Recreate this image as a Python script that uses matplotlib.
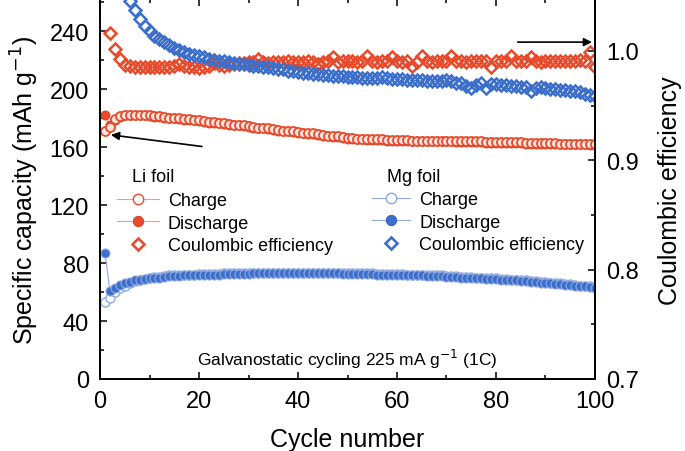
import numpy as np
import matplotlib
matplotlib.use("Agg")
import matplotlib.pyplot as plt
from matplotlib.lines import Line2D
from matplotlib.ticker import MultipleLocator, FormatStrFormatter

plt.rcParams['font.family'] = ['Liberation Sans', 'DejaVu Sans']

nan = np.nan
cycles = np.arange(1, 101)

li_discharge = [182, 175, 179, 181, 182, 182, 182, 182, 182, 181.5,
                181, 181, 180.5, 180, 180, 179.5, 179, 179, 178.5, 178,
                177.5, 177, 177, 176.5, 176, 175.5, 175, 175, 174.5, 174,
                173.5, 173, 173, 172.5, 172, 171.5, 171, 171, 170.5, 170,
                169.5, 169, 169, 168.5, 168, 167.5, 167, 167, 166.5, 166,
                166, 165.5, 165.5, 165, 165, 165, 165, 164.5, 164.5, 164.5,
                164.5, 164.5, 164, 164, 164, 164, 164, 164, 164, 164,
                164, 163.5, 163.5, 163.5, 163.5, 163.5, 163.5, 163, 163, 163,
                163, 163, 163, 163, 163, 162.5, 162.5, 162.5, 162.5, 162.5,
                162.5, 162.5, 162, 162, 162, 162, 162, 162, 161.5, 161.5]
li_charge = [171, 174, 179.5, 181.5, 182.5, 182.5, 182.5, 182.5, 182.5, 182,
             181.5, 181.5, 181, 180.5, 180.5, 180, 179.5, 179.5, 179, 178.5,
             178, 177.5, 177.5, 177, 176.5, 176, 175.5, 175.5, 175, 174.5,
             174, 173.5, 173.5, 173, 172.5, 172, 171.5, 171.5, 171, 170.5,
             170, 169.5, 169.5, 169, 168.5, 168, 167.5, 167.5, 167, 166.5,
             166.5, 166, 166, 165.5, 165.5, 165.5, 165.5, 165, 165, 165,
             165, 165, 164.5, 164.5, 164.5, 164.5, 164.5, 164.5, 164.5, 164.5,
             164.5, 164, 164, 164, 164, 164, 164, 163.5, 163.5, 163.5,
             163.5, 163.5, 163.5, 163.5, 163.5, 163, 163, 163, 163, 163,
             163, 163, 162.5, 162.5, 162.5, 162.5, 162.5, 162.5, 162, 162]
li_ce = [nan, 1.016, 1.002, 0.993, 0.987, 0.986, 0.985, 0.985, 0.985, 0.985,
         0.985, 0.985, 0.985, 0.985, 0.986, 0.988, 0.986, 0.985, 0.985, 0.984,
         0.985, 0.986, 0.989, 0.987, 0.986, 0.987, 0.988, 0.989, 0.989, 0.990,
         0.990, 0.993, 0.990, 0.989, 0.990, 0.990, 0.990, 0.991, 0.990, 0.990,
         0.990, 0.991, 0.990, 0.988, 0.990, 0.991, 0.994, 0.990, 0.991, 0.991,
         0.991, 0.990, 0.991, 0.995, 0.991, 0.990, 0.991, 0.991, 0.994, 0.991,
         0.990, 0.991, 0.986, 0.990, 0.995, 0.991, 0.990, 0.991, 0.991, 0.991,
         0.995, 0.991, 0.991, 0.990, 0.991, 0.991, 0.991, 0.991, 0.985, 0.991,
         0.991, 0.991, 0.995, 0.991, 0.991, 0.991, 0.994, 0.991, 0.990, 0.991,
         0.991, 0.991, 0.991, 0.991, 0.991, 0.991, 0.992, 0.991, 0.999, 0.985]

mg_discharge = [87, 61, 63, 65, 66, 67, 68, 68.5, 69, 69.5,
                70, 70, 70.5, 71, 71, 71, 71.5, 71.5, 71.5, 72,
                72, 72, 72, 72, 72.5, 72.5, 72.5, 72.5, 72.5, 72.5,
                73, 73, 73, 73, 73, 73, 73, 73, 73, 73,
                73, 73, 73, 73, 73, 73, 73, 73, 72.5, 72.5,
                72.5, 72.5, 72.5, 72.5, 72.5, 72, 72, 72, 72, 72,
                72, 71.5, 71.5, 71.5, 71.5, 71, 71, 71, 71, 70.5,
                70.5, 70.5, 70, 70, 70, 69.5, 69.5, 69, 69, 69,
                68.5, 68.5, 68, 68, 67.5, 67.5, 67, 67, 66.5, 66.5,
                66, 65.5, 65.5, 65, 65, 64.5, 64, 64, 63.5, 63]
mg_charge = [53, 56, 60, 62.5, 64.5, 66, 67.5, 68.5, 69, 69.5,
             70.5, 70.5, 71, 71.5, 71.5, 71.5, 72, 72, 72, 72.5,
             72.5, 72.5, 72.5, 72.5, 73, 73, 73, 73, 73, 73,
             73.5, 73.5, 73.5, 73.5, 73.5, 73.5, 73.5, 73.5, 73.5, 73.5,
             73.5, 73.5, 73.5, 73.5, 73.5, 73.5, 73.5, 73.5, 73, 73,
             73, 73, 73, 73, 73, 72.5, 72.5, 72.5, 72.5, 72.5,
             72.5, 72, 72, 72, 72, 71.5, 71.5, 71.5, 71.5, 71,
             71, 71, 70.5, 70.5, 70.5, 70, 70, 69.5, 69.5, 69.5,
             69, 69, 68.5, 68.5, 68, 68, 67.5, 67.5, 67, 67,
             66.5, 66, 66, 65.5, 65.5, 65, 64.5, 64.5, 64, 63.5]
mg_ce = [nan, nan, nan, nan, 1.055, 1.046, 1.037, 1.029, 1.023, 1.018,
         1.014, 1.011, 1.008, 1.005, 1.003, 1.001, 0.999, 0.997, 0.996, 0.995,
         0.994, 0.993, 0.992, 0.991, 0.991, 0.990, 0.989, 0.988, 0.988, 0.987,
         0.986, 0.986, 0.985, 0.985, 0.984, 0.983, 0.983, 0.982, 0.982, 0.981,
         0.980, 0.980, 0.979, 0.979, 0.978, 0.978, 0.977, 0.977, 0.977, 0.976,
         0.976, 0.976, 0.975, 0.975, 0.975, 0.975, 0.976, 0.975, 0.974, 0.974,
         0.974, 0.973, 0.973, 0.973, 0.973, 0.972, 0.972, 0.972, 0.972, 0.973,
         0.972, 0.971, 0.971, 0.968, 0.966, 0.969, 0.971, 0.966, 0.970, 0.970,
         0.969, 0.969, 0.968, 0.968, 0.967, 0.967, 0.963, 0.966, 0.967, 0.966,
         0.965, 0.965, 0.964, 0.964, 0.963, 0.963, 0.962, 0.961, 0.960, 0.959]

red = '#e84b2c'
red_light = '#f29a86'
red_dark = '#d23a1c'
blue = '#3c6fcc'
blue_light = '#8fa9e0'
blue_dark = '#2c58ad'

fig = plt.figure(figsize=(6.85, 4.52), dpi=100)
ax = fig.add_axes([0.146, 0.1593, 0.7226, 0.8397])
ax2 = ax.twinx()

# capacities (left axis); Mg: discharge on top, Li: charge on top
ax.plot(cycles, mg_charge, '-o', color=blue_light, lw=0.8, ms=6.5,
        mfc='white', mec=blue_light, mew=1.0, zorder=3)
ax.plot(cycles, mg_discharge, '-o', color=blue_light, lw=0.8, ms=6.5,
        mfc=blue, mec=blue_light, mew=0.8, zorder=3)
ax.plot(cycles, li_discharge, '-o', color=red_light, lw=0.8, ms=6.5,
        mfc=red, mec=red_dark, mew=0.6, zorder=3)
ax.plot(cycles, li_charge, '-o', color=red_light, lw=0.8, ms=6.5,
        mfc='#fde3dc', mec=red, mew=1.3, zorder=3)

# coulombic efficiency (right axis)
ax2.plot(cycles, li_ce, 'D', ms=6.2, mfc='none', mec=red, mew=1.8)
ax2.plot(cycles, mg_ce, 'D', ms=6.2, mfc='none', mec=blue, mew=1.8)

ax.set_xlim(0, 100)
ax.set_ylim(0, 262)
ax2.set_ylim(0.7, 1.047)

ax.xaxis.set_major_locator(MultipleLocator(20))
ax.xaxis.set_minor_locator(MultipleLocator(10))
ax.yaxis.set_major_locator(MultipleLocator(40))
ax.yaxis.set_minor_locator(MultipleLocator(20))
ax2.yaxis.set_major_locator(MultipleLocator(0.1))
ax2.yaxis.set_minor_locator(MultipleLocator(0.05))
ax2.yaxis.set_major_formatter(FormatStrFormatter('%.1f'))

ax.tick_params(which='both', direction='in', top=True, right=False,
               labelsize=17, width=1.1, pad=8)
ax.tick_params(which='major', length=5)
ax.tick_params(which='minor', length=3)
ax2.tick_params(which='both', direction='in', labelsize=17, width=1.1, pad=8)
ax2.tick_params(which='major', length=5)
ax2.tick_params(which='minor', length=3)

for a in (ax, ax2):
    for s in a.spines.values():
        s.set_linewidth(1.3)

ax.set_xlabel('Cycle number', fontsize=18, labelpad=11)
ax.set_ylabel('Specific capacity (mAh g$^{-1}$)', fontsize=18, labelpad=6)
ax2.set_ylabel('Coulombic efficiency', fontsize=18, labelpad=14)

# arrows
ax.annotate('', xy=(2.2, 168.5), xytext=(20.6, 160.5),
            arrowprops=dict(arrowstyle='-|>', color='black', lw=1.2,
                            mutation_scale=12, shrinkA=0, shrinkB=0))
ax2.annotate('', xy=(99.4, 1.008), xytext=(84.4, 1.008),
             arrowprops=dict(arrowstyle='-|>', color='black', lw=1.2,
                             mutation_scale=12, shrinkA=0, shrinkB=0))

ax.text(50, 10, 'Galvanostatic cycling 225 mA g$^{-1}$ (1C)', fontsize=12.5,
        ha='center', va='baseline')

# legends
def make_handles(c, cl, cdark, top_hollow):
    hollow = Line2D([], [], color=cl, lw=0.8, marker='o', ms=7.5,
                    mfc='white', mec=c if top_hollow else cl, mew=1.0)
    filled = Line2D([], [], color=cl, lw=0.8, marker='o', ms=7.5, mfc=c,
                    mec=cdark, mew=0.6)
    diamond = Line2D([], [], ls='none', marker='D', ms=6.5, mfc='none',
                     mec=c, mew=1.9)
    return [hollow, filled, diamond]

labels = ['Charge', 'Discharge', 'Coulombic efficiency']
leg1 = ax2.legend(make_handles(red, red_light, red_dark, True), labels,
                  loc='upper left', bbox_to_anchor=(0.035, 0.492),
                  frameon=False, fontsize=13, handlelength=2.3,
                  handletextpad=0.5, labelspacing=0.3, borderpad=0,
                  borderaxespad=0)
ax2.add_artist(leg1)
ax2.legend(make_handles(blue, blue_light, blue_dark, False), labels,
           loc='upper left', bbox_to_anchor=(0.55, 0.495),
           frameon=False, fontsize=13, handlelength=2.1,
           handletextpad=0.5, labelspacing=0.3, borderpad=0,
           borderaxespad=0)
ax.text(0.065, 0.512, 'Li foil', transform=ax.transAxes, fontsize=13,
        ha='left', va='bottom')
ax.text(0.58, 0.512, 'Mg foil', transform=ax.transAxes, fontsize=13,
        ha='left', va='bottom')

fig.savefig('out.png', dpi=100)
